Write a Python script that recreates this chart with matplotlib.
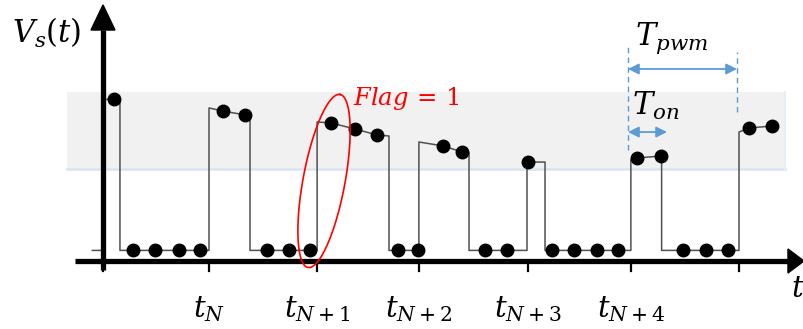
import matplotlib
matplotlib.use("Agg")
import matplotlib.pyplot as plt
from matplotlib.patches import Polygon, Rectangle
import numpy as np

plt.rcParams["mathtext.fontset"] = "dejavuserif"

# ---------------------------------------------------------------------
# Data (time in PWM periods, voltage normalised)
# ---------------------------------------------------------------------
tick_t = [0.0, 1.0, 2.02, 2.98, 4.01, 4.98, 6.0]
tick_labels = ["", r"$t_N$", r"$t_{N+1}$", r"$t_{N+2}$", r"$t_{N+3}$", r"$t_{N+4}$", ""]

ground = 0.065
rise_t = [0.0, 1.0, 2.02, 2.98, 4.0, 4.98, 6.0]
fall_t = [0.16, 1.387, 2.698, 3.453, 4.17, 5.27, 6.35]
rise_v = [0.99, 0.939, 0.853, 0.730, 0.607, 0.620, 0.791]
fall_v = [0.99, 0.890, 0.767, 0.663, 0.607, 0.644, 0.828]

sample_t = [0.104, 0.283, 0.491, 0.717, 0.915, 1.132, 1.340, 1.547, 1.755,
            1.953, 2.151, 2.377, 2.585, 2.783, 2.972, 3.208, 3.387, 3.604,
            3.811, 4.009, 4.236, 4.443, 4.660, 4.858, 5.038, 5.264, 5.472,
            5.689, 5.896, 6.094, 6.311]
sample_v = [0.994, ground, ground, ground, ground, 0.920, 0.896, ground, ground,
            ground, 0.847, 0.810, 0.773, ground, ground, 0.706, 0.669, ground,
            ground, 0.607, ground, ground, ground, ground, 0.632, 0.644, ground,
            ground, ground, 0.816, 0.828]

# ---------------------------------------------------------------------
# Figure: one axes over the whole canvas
# ---------------------------------------------------------------------
fig = plt.figure(figsize=(8.04, 3.29), dpi=100)
ax = fig.add_axes([0, 0, 1, 1])
ax.set_xlim(-0.9717, 6.6132)
ax.set_ylim(-0.4172, 1.6012)
ax.axis("off")

px_x = 1 / 106  # data units per pixel
px_y = 1 / 163

# Shaded band
ax.add_patch(Rectangle((-0.34, 0.571), 6.77, 0.466, facecolor="#f1f1f1",
                       edgecolor="none", zorder=0))
ax.plot([-0.34, 6.43], [0.566, 0.566], color="#dbe6f3", lw=2.0, zorder=0)
ax.plot([6.43, 6.43], [0.566, 1.037], color="#e6eef7", lw=1.5, zorder=0)

# Signal polyline
xs, ys = [-0.10], [ground]
for k in range(len(rise_t)):
    xs += [rise_t[k], rise_t[k]]
    ys += [ground, rise_v[k]]
    for t, v in zip(sample_t, sample_v):
        if rise_t[k] < t < fall_t[k] and v > ground + 0.1:
            xs.append(t)
            ys.append(v)
    xs.append(fall_t[k])
    ys.append(fall_v[k])
    if k < len(rise_t) - 1:
        xs.append(fall_t[k])
        ys.append(ground)
ax.plot(xs, ys, color="#505050", lw=1.1, zorder=2)
ax.plot(sample_t, sample_v, "o", color="black", markersize=9, zorder=3)

# Axes with arrows
ax.plot([0, 0], [-0.055, 1.42], color="black", lw=3.8, zorder=4,
        solid_capstyle="butt")
ax.add_patch(Polygon([[-12 * px_x, 1.417], [12 * px_x, 1.417], [0, 1.571]],
                     closed=True, color="black", zorder=4))
ax.plot([-0.264, 6.47], [0, 0], color="black", lw=3.8, zorder=4,
        solid_capstyle="butt")
ax.add_patch(Polygon([[6.462, 12 * px_y], [6.462, -12 * px_y], [6.613, 0]],
                     closed=True, color="black", zorder=4))

for t, lab in zip(tick_t, tick_labels):
    ax.plot([t, t], [0, -10 * px_y], color="black", lw=1.6, zorder=4)
    if lab:
        ax.text(t, -0.344, lab, fontsize=21, ha="center", va="baseline")

ax.text(-0.86, 1.337, r"$V_s(t)$", fontsize=22, ha="left", va="baseline")
ax.text(6.49, -0.22, r"$t$", fontsize=21, ha="left", va="baseline")

# Red ellipse around the flagged sample
cx, cy = 2.085, 0.491
a, b, ang = 88, 21, np.deg2rad(79.5)
th = np.linspace(0, 2 * np.pi, 200)
ex = (a * np.cos(th) * np.cos(ang) - b * np.sin(th) * np.sin(ang)) * px_x + cx
ey = (a * np.cos(th) * np.sin(ang) + b * np.sin(th) * np.cos(ang)) * px_y + cy
ax.plot(ex, ey, color="red", lw=1.2, zorder=5)
ax.text(2.36, 0.957, r"$Flag\,=\,1$", fontsize=17.5, color="red",
        ha="left", va="baseline")

# T_pwm / T_on markers
blue = "#5b9bd5"
ax.plot([4.953, 4.953], [0.681, 1.337], color=blue, lw=1.0, ls=(0, (4, 3)))
ax.plot([5.981, 5.981], [0.914, 1.282], color=blue, lw=1.0, ls=(0, (4, 3)))
ax.annotate("", xy=(5.981, 1.178), xytext=(4.953, 1.178),
            arrowprops=dict(arrowstyle="<|-|>", color=blue, lw=1.3,
                            mutation_scale=16, shrinkA=0, shrinkB=0))
ax.annotate("", xy=(5.321, 0.791), xytext=(4.953, 0.791),
            arrowprops=dict(arrowstyle="<|-|>", color=blue, lw=1.3,
                            mutation_scale=16, shrinkA=0, shrinkB=0))
ax.text(5.02, 1.325, r"$T_{pwm}$", fontsize=22, ha="left", va="baseline")
ax.text(4.99, 0.896, r"$T_{on}$", fontsize=22, ha="left", va="baseline")

fig.savefig("out.png", dpi=100)
